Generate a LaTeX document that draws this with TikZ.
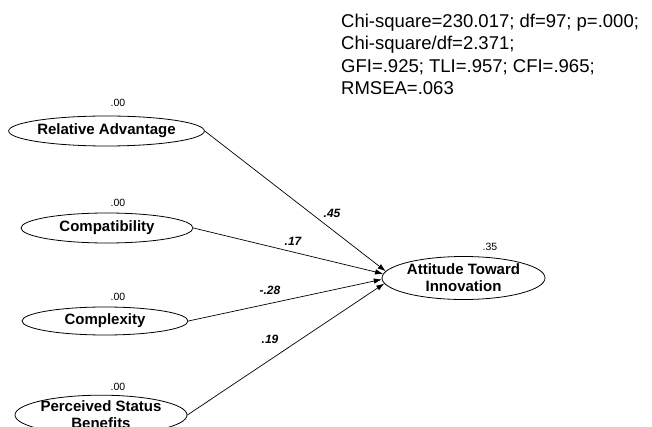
\documentclass[tikz,border=0pt]{standalone}
\usepackage{fontspec}
\setmainfont{Liberation Sans}
\usetikzlibrary{shapes.geometric,arrows.meta}
\tikzset{
  latent/.style={draw,ellipse,line width=0.8pt,inner sep=0pt,align=center,font=\fontsize{15}{17}\selectfont\bfseries},
  est/.style={font=\fontsize{10.5}{11}\selectfont,inner sep=0pt},
  coef/.style={font=\fontsize{12}{12}\selectfont\bfseries\itshape,inner sep=0pt},
  path/.style={line width=0.7pt,-{Latex[length=8pt,width=5.5pt]}},
}
\begin{document}
\begin{tikzpicture}[x=1pt,y=-1pt]
\useasboundingbox (0,0) rectangle (652,427);
\clip (0,0) rectangle (652,427);
\node[latent,minimum width=193pt,minimum height=30pt] (ra) at (106.5,131) {Relative Advantage};
\node[latent,minimum width=172pt,minimum height=30pt] (co) at (107,228) {Compatibility};
\node[latent,minimum width=166pt,minimum height=28pt] (cx) at (105,321) {Complexity};
\node[latent,minimum width=172pt,minimum height=34pt] (ps) at (101,415) {Perceived Status\\Benefits};
\node[latent,minimum width=163pt,minimum height=43pt] (at) at (463.5,278) {Attitude Toward\\Innovation};
\node[est] (ra00) at (118,103) {.00};
\node[est] (co00) at (118,203) {.00};
\node[est] (cx00) at (118,297) {.00};
\node[est] (ps00) at (118,387) {.00};
\node[est] (at35) at (490,247) {.35};
\draw[path] (ra.east) -- (at.175);
\draw[path] (co.east) -- (at.177.5);
\draw[path] (cx.east) -- (at.181);
\draw[path] (ps.east) -- (at.184.5);
\node[coef] (c1) at (332,213) {.45};
\node[coef] (c2) at (293,241) {.17};
\node[coef] (c3) at (270,290) {-.28};
\node[coef] (c4) at (270,339) {.19};
\node[anchor=north west,align=left,inner sep=0pt,font=\fontsize{18.5}{22.3}\selectfont] (fit) at (341,14)
{Chi-square=230.017; df=97; p=.000;\\Chi-square/df=2.371;\\GFI=.925; TLI=.957; CFI=.965;\\RMSEA=.063};
\end{tikzpicture}
\end{document}
